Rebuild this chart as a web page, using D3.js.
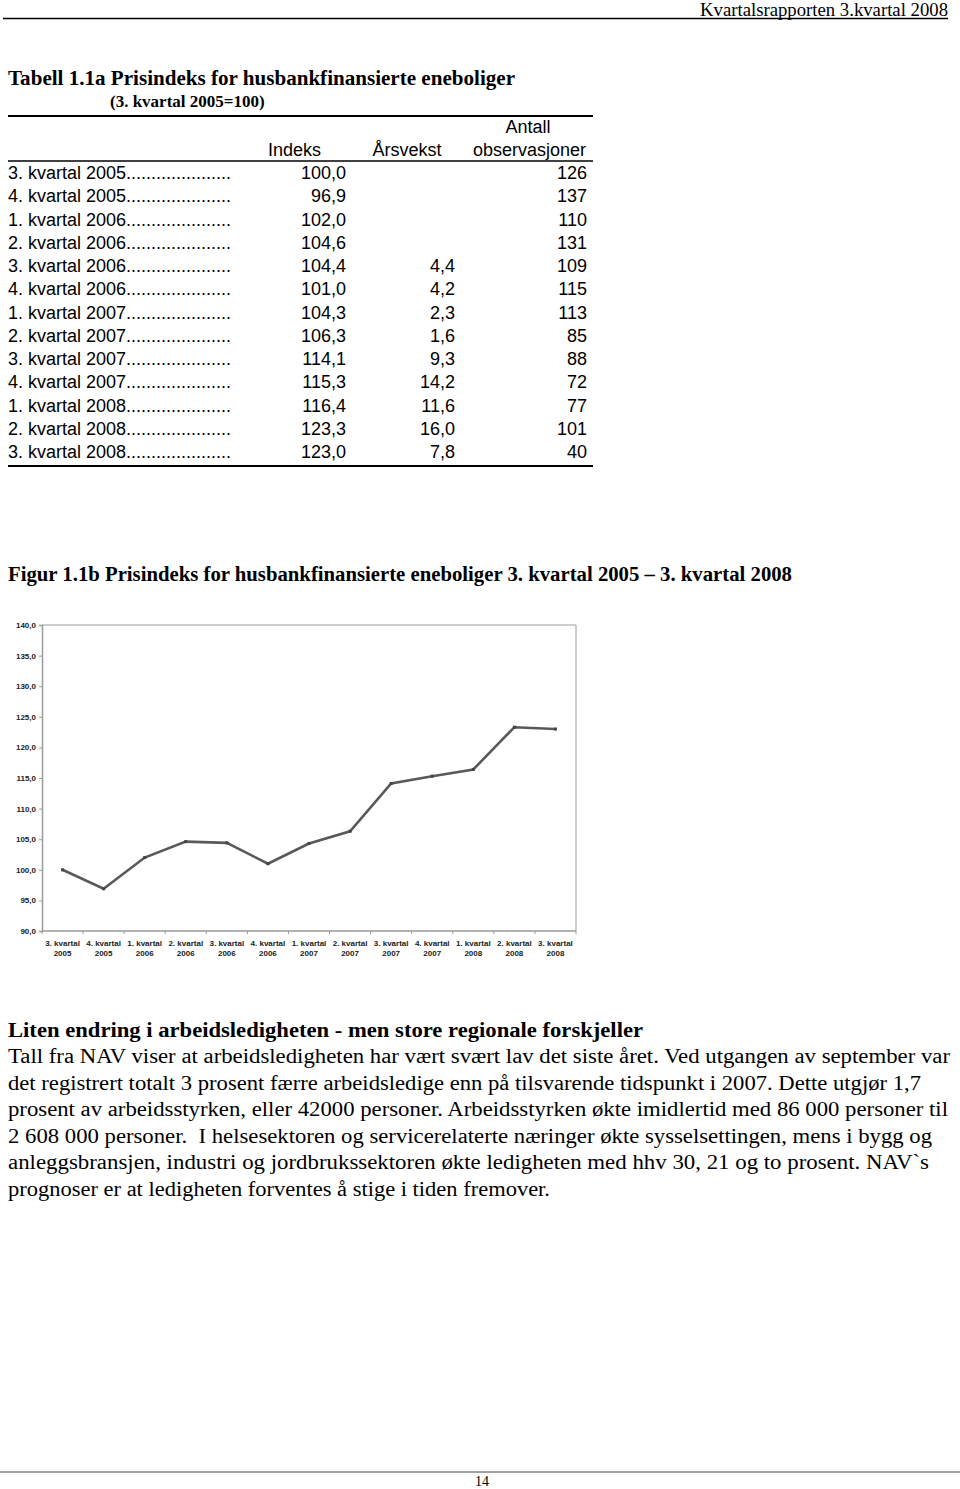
<!DOCTYPE html>
<html>
<head>
<meta charset="utf-8">
<script src="https://cdn.jsdelivr.net/npm/d3@7"></script>
<style>
  body { margin: 0; background: #fff; }
  svg { display: block; }
</style>
</head>
<body>
<div id="page"></div>
<script>
// data from the table
var quarters = ["3. kvartal 2005", "4. kvartal 2005", "1. kvartal 2006", "2. kvartal 2006",
    "3. kvartal 2006", "4. kvartal 2006", "1. kvartal 2007", "2. kvartal 2007",
    "3. kvartal 2007", "4. kvartal 2007", "1. kvartal 2008", "2. kvartal 2008", "3. kvartal 2008"];
var indeks = [100.0, 96.9, 102.0, 104.6, 104.4, 101.0, 104.3, 106.3, 114.1, 115.3, 116.4, 123.3, 123.0];
var arsvekst = [null, null, null, null, 4.4, 4.2, 2.3, 1.6, 9.3, 14.2, 11.6, 16.0, 7.8];
var antall = [126, 137, 110, 131, 109, 115, 113, 85, 88, 72, 77, 101, 40];
var yTicks = [90, 95, 100, 105, 110, 115, 120, 125, 130, 135, 140];

var bodyLines = [
  "Tall fra NAV viser at arbeidsledigheten har vært svært lav det siste året. Ved utgangen av september var",
  "det registrert totalt 3 prosent færre arbeidsledige enn på tilsvarende tidspunkt i 2007. Dette utgjør 1,7",
  "prosent av arbeidsstyrken, eller 42000 personer. Arbeidsstyrken økte imidlertid med 86 000 personer til",
  "2 608 000 personer.  I helsesektoren og servicerelaterte næringer økte sysselsettingen, mens i bygg og",
  "anleggsbransjen, industri og jordbrukssektoren økte ledigheten med hhv 30, 21 og to prosent. NAV`s",
  "prognoser er at ledigheten forventes å stige i tiden fremover."
];
var bodyWidths = [942, 913, 940, 924, 921, 542];

var fmt = function(v){ return d3.format(".1f")(v).replace(".", ","); };

var W = 960, H = 1489;
var serif = "'Liberation Serif', 'Times New Roman', serif";
var sans = "'Liberation Sans', Arial, sans-serif";

var svg = d3.select("#page").append("svg")
    .attr("width", W).attr("height", H);

// page header
svg.append("text")
    .attr("x", 948).attr("y", 16)
    .attr("text-anchor", "end")
    .style("font-family", serif).style("font-size", "18px")
    .attr("textLength", 248).attr("lengthAdjust", "spacingAndGlyphs")
    .text("Kvartalsrapporten 3.kvartal 2008");
svg.append("line").attr("x1", 3).attr("x2", 948).attr("y1", 18.5).attr("y2", 18.5)
    .style("stroke", "#000").style("stroke-width", 1.5);

// ---------- table ----------
svg.append("text")
    .attr("x", 8).attr("y", 85)
    .style("font-family", serif).style("font-size", "20px").style("font-weight", "bold")
    .attr("textLength", 507).attr("lengthAdjust", "spacingAndGlyphs")
    .text("Tabell 1.1a Prisindeks for husbankfinansierte eneboliger");
svg.append("text")
    .attr("x", 110).attr("y", 107)
    .style("font-family", serif).style("font-size", "17px").style("font-weight", "bold")
    .text("(3. kvartal 2005=100)");

var tbl = svg.append("g").style("font-family", sans).style("font-size", "18px").style("fill", "#000");
tbl.append("line").attr("x1", 8).attr("x2", 593).attr("y1", 116).attr("y2", 116)
    .style("stroke", "#000").style("stroke-width", 2);
tbl.append("text").attr("x", 528).attr("y", 133).attr("text-anchor", "middle").text("Antall");
tbl.append("text").attr("x", 321).attr("y", 156).attr("text-anchor", "end").text("Indeks");
tbl.append("text").attr("x", 407).attr("y", 156).attr("text-anchor", "middle").text("Årsvekst");
tbl.append("text").attr("x", 586).attr("y", 156).attr("text-anchor", "end").text("observasjoner");
tbl.append("line").attr("x1", 8).attr("x2", 593).attr("y1", 161).attr("y2", 161)
    .style("stroke", "#000").style("stroke-width", 1.5);

var rowY = d3.scaleLinear().domain([0, quarters.length - 1]).range([179, 458]);
var dots = ".....................";
var rows = tbl.selectAll("g.row").data(quarters).enter().append("g").attr("class", "row")
    .attr("transform", function(d, i){ return "translate(0," + rowY(i) + ")"; });
rows.append("text").attr("x", 8).text(function(d){ return d + dots; });
rows.append("text").attr("x", 346).attr("text-anchor", "end")
    .text(function(d, i){ return fmt(indeks[i]); });
rows.append("text").attr("x", 455).attr("text-anchor", "end")
    .text(function(d, i){ return arsvekst[i] == null ? "" : fmt(arsvekst[i]); });
rows.append("text").attr("x", 587).attr("text-anchor", "end")
    .text(function(d, i){ return antall[i]; });
tbl.append("line").attr("x1", 8).attr("x2", 593).attr("y1", 466).attr("y2", 466)
    .style("stroke", "#000").style("stroke-width", 2);

// ---------- figure ----------
svg.append("text")
    .attr("x", 8).attr("y", 581)
    .style("font-family", serif).style("font-size", "20px").style("font-weight", "bold")
    .attr("textLength", 784).attr("lengthAdjust", "spacingAndGlyphs")
    .text("Figur 1.1b Prisindeks for husbankfinansierte eneboliger 3. kvartal 2005 – 3. kvartal 2008");

var x = d3.scaleBand().domain(quarters).range([42, 576]);
var y = d3.scaleLinear().domain([90, 140]).range([931, 625]);

var chart = svg.append("g");

// frame top + right
chart.append("line").attr("x1", x.range()[0]).attr("x2", x.range()[1])
    .attr("y1", y(140)).attr("y2", y(140)).style("stroke", "#bdbdbd").style("stroke-width", 1.5);
chart.append("line").attr("x1", x.range()[1]).attr("x2", x.range()[1])
    .attr("y1", y(140)).attr("y2", y(90)).style("stroke", "#bdbdbd").style("stroke-width", 1.5);

// Y axis
var yAxis = chart.append("g")
    .attr("transform", "translate(" + x.range()[0] + ",0)")
    .call(d3.axisLeft(y).tickValues(yTicks).tickSize(3).tickPadding(3).tickFormat(fmt));
yAxis.select(".domain").style("stroke", "#9a9a9a").style("stroke-width", 1.5);
yAxis.selectAll(".tick line").style("stroke", "#9a9a9a");
yAxis.selectAll("text").style("font-family", sans).style("font-size", "8px")
    .style("font-weight", "bold").style("fill", "#222");

// X axis: ticks on band edges
var xAxisG = chart.append("g").attr("transform", "translate(0," + y(90) + ")");
xAxisG.append("line").attr("x1", x.range()[0]).attr("x2", x.range()[1])
    .style("stroke", "#9a9a9a").style("stroke-width", 1.5);
var edges = quarters.map(function(q){ return x(q); }).concat([x.range()[1]]);
xAxisG.selectAll("line.tk").data(edges).enter().append("line").attr("class", "tk")
    .attr("x1", function(d){ return d; }).attr("x2", function(d){ return d; })
    .attr("y1", 0).attr("y2", 3).style("stroke", "#9a9a9a");
var xl = xAxisG.selectAll("text.xl").data(quarters).enter().append("text").attr("class", "xl")
    .attr("x", function(d){ return x(d) + x.bandwidth() / 2; })
    .attr("text-anchor", "middle")
    .style("font-family", sans).style("font-size", "8px").style("font-weight", "bold").style("fill", "#222");
xl.append("tspan").attr("x", function(d){ return x(d) + x.bandwidth() / 2; }).attr("y", 15)
    .text(function(d){ return d.slice(0, 10); });
xl.append("tspan").attr("x", function(d){ return x(d) + x.bandwidth() / 2; }).attr("y", 25)
    .text(function(d){ return d.slice(11); });

// line
var line = d3.line()
    .x(function(d, i){ return x(quarters[i]) + x.bandwidth() / 2; })
    .y(function(d){ return y(d); });
chart.append("path")
    .datum(indeks)
    .attr("d", line)
    .style("fill", "none")
    .style("stroke", "#595959")
    .style("stroke-width", 2.6)
    .style("stroke-linejoin", "miter");
chart.selectAll("rect.pt").data(indeks).enter().append("rect").attr("class", "pt")
    .attr("x", function(d, i){ return x(quarters[i]) + x.bandwidth() / 2 - 1.5; })
    .attr("y", function(d){ return y(d) - 1.5; })
    .attr("width", 3).attr("height", 3)
    .style("fill", "#444");

// ---------- body text ----------
svg.append("text")
    .attr("x", 8).attr("y", 1037)
    .style("font-family", serif).style("font-size", "20px").style("font-weight", "bold")
    .attr("textLength", 635).attr("lengthAdjust", "spacingAndGlyphs")
    .text("Liten endring i arbeidsledigheten - men store regionale forskjeller");
svg.selectAll("text.body").data(bodyLines).enter().append("text").attr("class", "body")
    .attr("x", 8)
    .attr("y", function(d, i){ return 1063 + i * 26.5; })
    .style("font-family", serif).style("font-size", "20px")
    .attr("textLength", function(d, i){ return bodyWidths[i]; })
    .attr("lengthAdjust", "spacingAndGlyphs")
    .style("white-space", "pre")
    .text(function(d){ return d; });

// footer
svg.append("line").attr("x1", 0).attr("x2", 960).attr("y1", 1472).attr("y2", 1472)
    .style("stroke", "#a0a0a0").style("stroke-width", 2);
svg.append("text").attr("x", 482).attr("y", 1486).attr("text-anchor", "middle")
    .style("font-family", serif).style("font-size", "14px")
    .text("14");
</script>
</body>
</html>
